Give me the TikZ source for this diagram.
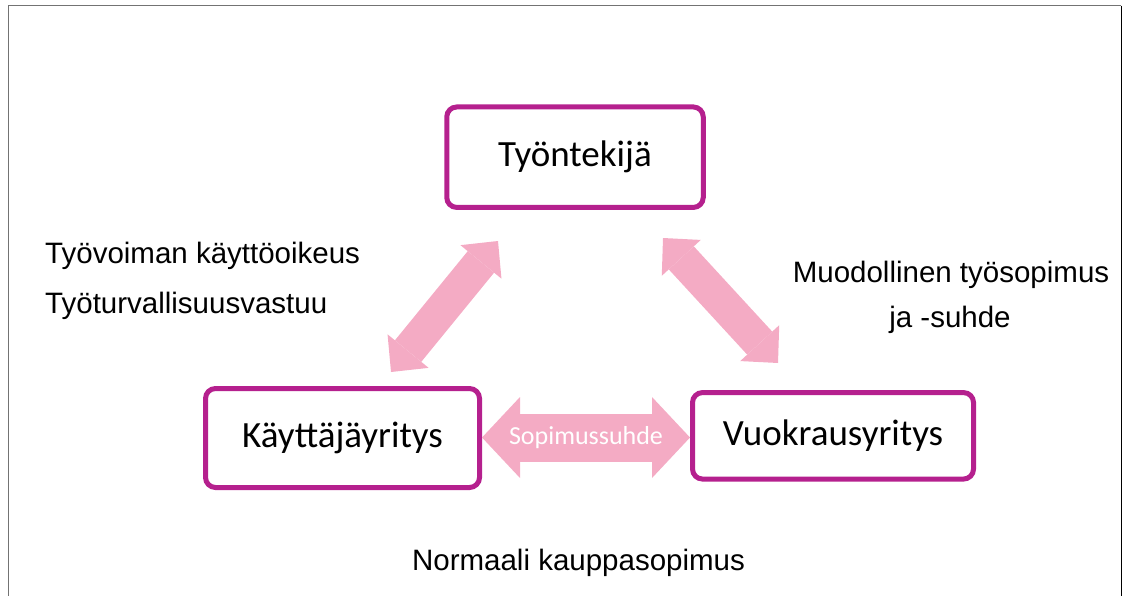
\documentclass[tikz,border=0pt]{standalone}
\usepackage{fontspec}
\usepackage{tikz}
\usetikzlibrary{calc,positioning}
\usetikzlibrary{arrows.meta}
\newfontfamily\arialfont{Liberation Sans}
\newfontfamily\calibrifont{Carlito}
\definecolor{boxpurple}{RGB}{181,32,142}
\definecolor{arrowpink}{RGB}{244,171,196}

\begin{document}
\begin{tikzpicture}[x=1pt,y=-1pt]
        \tikzstyle{pbox} = [draw=boxpurple, line width=5pt, rounded corners=10pt, inner sep=0pt, fill=white,
        font=\calibrifont\fontsize{37}{44}\selectfont]
        \tikzstyle{parrow} = [draw=arrowpink, line width=34pt,
        {Triangle[length=27pt,width=53pt,line width=0pt]}-{Triangle[length=27pt,width=53pt,line width=0pt]}]
        \tikzstyle{wlabel} = [font=\arialfont\fontsize{29.5}{35}\selectfont, inner sep=0pt]
        \useasboundingbox (0,0) rectangle (1123,596);

        % frame
        \draw[black!55, line width=1.3pt] (8.8,596) -- (8.8,5.7) -- (1121.3,5.7);
        \draw[black, line width=1.3pt] (1121.3,5.7) -- (1121.3,596);

        \node[pbox, minimum width=256.5pt, minimum height=100.5pt] (tt) at (575,157.2) {Työntekijä};
        \node[pbox, minimum width=274pt, minimum height=99pt] (ky) at (342.5,438) {Käyttäjäyritys};
        \node[pbox, minimum width=281pt, minimum height=86.5pt] (vy) at (833,435.8) {Vuokrausyritys};

        \coordinate (kyt) at (391,372);
        \coordinate (ttl) at (498,241);
        \coordinate (ttr) at (663,238);
        \coordinate (vyt) at (778,363);

        \draw[parrow] (kyt) -- (ttl);
        \draw[parrow] (ttr) -- (vyt);
        \draw[draw=arrowpink, line width=48pt,
        {Triangle[length=38pt,width=81pt,line width=0pt]}-{Triangle[length=38pt,width=81pt,line width=0pt]}]
        (ky.east |- 0,437.5) -- (vy.west |- 0,437.5)
        node[midway, text=white, font=\calibrifont\fontsize{26}{31}\selectfont] (sop) {Sopimussuhde};

        \node[wlabel, anchor=base west] (l1) at (45,263) {Työvoiman käyttöoikeus};
        \node[wlabel, anchor=base west] (l2) at (45,313) {Työturvallisuusvastuu};
        \node[wlabel, anchor=base] (r1) at (951,282) {Muodollinen työsopimus};
        \node[wlabel, anchor=base] (r2) at (950,327) {ja -suhde};
        \node[wlabel, anchor=base] (b1) at (578.5,570) {Normaali kauppasopimus};
      \end{tikzpicture}
\end{document}
